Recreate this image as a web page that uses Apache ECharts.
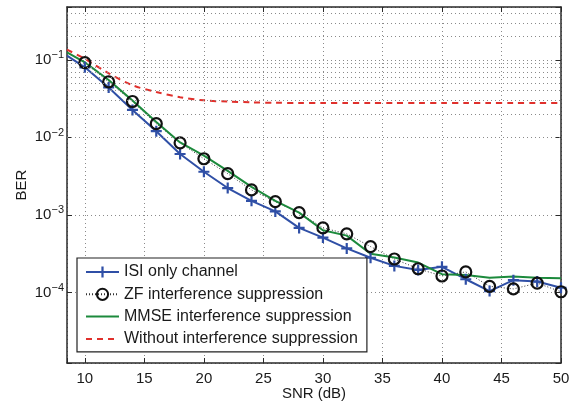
<!DOCTYPE html>
<html>
<head>
<meta charset="utf-8">
<script src="https://cdn.jsdelivr.net/npm/echarts@6/dist/echarts.min.js"></script>
<style>
  html, body { margin: 0; padding: 0; background: #fff; }
  #chart { width: 576px; height: 403px; }
</style>
</head>
<body>
<div id="chart"></div>
<script>
// SNR points (dB)
const snr = [8.5, 10, 12, 14, 16, 18, 20, 22, 24, 26, 28, 30, 32, 34, 36, 38, 40, 42, 44, 46, 48, 50];

// BER values
const isiOnly = [0.113, 0.080, 0.044, 0.0226, 0.012, 0.0061, 0.0036, 0.00222, 0.00152, 0.00111, 0.00068,
  0.00051, 0.00037, 0.00028, 0.00022, 0.000195, 0.000214, 0.000148, 0.000104, 0.000144, 0.000138, 0.000115];
const zfSupp = [0.125, 0.092, 0.052, 0.029, 0.015, 0.0085, 0.0053, 0.0034, 0.0021, 0.00148, 0.00107,
  0.00068, 0.00057, 0.00039, 0.00027, 0.000202, 0.000163, 0.000184, 0.00012, 0.000111, 0.000132, 0.000102];
const mmseSupp = [0.125, 0.093, 0.055, 0.0298, 0.0158, 0.0086, 0.0058, 0.0037, 0.0023, 0.00152, 0.00107,
  0.000635, 0.00054, 0.000316, 0.000282, 0.000243, 0.000172, 0.000168, 0.000155, 0.00016, 0.000155, 0.000152];
const noSupp = [0.135, 0.103, 0.067, 0.047, 0.0384, 0.033, 0.0300, 0.0289, 0.0283, 0.0279, 0.0278,
  0.0277, 0.0278, 0.0277, 0.0277, 0.0278, 0.0277, 0.0278, 0.0277, 0.0278, 0.0277, 0.0278];

const seriesNames = ['ISI only channel', 'ZF interference suppression', 'MMSE interference suppression', 'Without interference suppression'];

// minor grid rows (2..9 x 10^n)
const decades = [1e-5, 1e-4, 1e-3, 1e-2, 1e-1];
const minorSteps = [2, 3, 4, 5, 6, 7, 8, 9];

const X_MIN = 8.5, X_MAX = 50;
const Y_MIN = 1.23e-5, Y_MAX = 0.48;
const FONT = '"Liberation Sans", Arial, Helvetica, sans-serif';
const INK = '#1a1a1a';
const gridLine = { color: '#8a8a8a', width: 1, type: [1, 3] };

function pairs (ys, hideFirst) {
  return snr.map(function (x, i) {
    if (hideFirst && i === 0) {
      return { value: [x, ys[i]], symbol: 'none' };
    }
    return [x, ys[i]];
  });
}

function yLabel (v) {
  let e = Math.log10(v);
  let r = Math.round(e);
  if (Math.abs(e - r) > 1e-6) {
    return '';
  }
  return '{b|10}{s|' + (r < 0 ? '\u2212' + (-r) : r) + '}';
}

function xLabel (v) {
  return Math.abs(v / 5 - Math.round(v / 5)) < 1e-6 ? String(v) : '';
}

let minorLines = [];
decades.forEach(function (d) {
  minorSteps.forEach(function (k) {
    let v = k * d;
    if (v > Y_MIN && v < Y_MAX) {
      minorLines.push({ yAxis: v });
    }
  });
});

let chart = echarts.init(document.getElementById('chart'));

let option = {
  animation: false,
  backgroundColor: '#fff',
  textStyle: { fontFamily: FONT },
  grid: { left: 67, right: 15, top: 7, bottom: 40, containLabel: false, outerBoundsMode: 'none' },
  legend: {
    orient: 'vertical',
    left: 77,
    top: 258,
    data: [
      { name: seriesNames[0] },
      { name: seriesNames[1] },
      { name: seriesNames[2], itemStyle: { color: 'rgba(0,0,0,0)', borderWidth: 0 } },
      { name: seriesNames[3], itemStyle: { color: 'rgba(0,0,0,0)', borderWidth: 0 } }
    ],
    backgroundColor: '#fff',
    borderColor: '#222',
    borderWidth: 1.2,
    borderRadius: 0,
    padding: [6, 9, 5, 8],
    itemWidth: 33,
    itemHeight: 14,
    itemGap: 6.3,
    textStyle: { fontFamily: FONT, fontSize: 16, color: INK }
  },
  xAxis: [{
    type: 'value',
    min: X_MIN,
    max: X_MAX,
    splitNumber: 8,
    minInterval: 5,
    maxInterval: 5,
    name: 'SNR (dB)',
    nameLocation: 'middle',
    nameGap: 23,
    nameMoveOverlap: false,
    nameTextStyle: { fontFamily: FONT, fontSize: 15, color: INK },
    axisLine: { lineStyle: { color: '#2a2a2a', width: 1.5 } },
    axisTick: { inside: true, length: 5, lineStyle: { color: '#2a2a2a' } },
    axisLabel: { formatter: xLabel, margin: 8, fontFamily: FONT, fontSize: 15, color: INK },
    splitLine: { show: true, lineStyle: gridLine }
  }, {
    type: 'value',
    position: 'top',
    min: X_MIN,
    max: X_MAX,
    splitNumber: 8,
    minInterval: 5,
    maxInterval: 5,
    axisLine: { lineStyle: { color: '#2a2a2a', width: 1.5 } },
    axisTick: { inside: true, length: 5, lineStyle: { color: '#2a2a2a' } },
    axisLabel: { show: false },
    splitLine: { show: false }
  }],
  yAxis: [{
    type: 'log',
    min: Y_MIN,
    max: Y_MAX,
    name: 'BER',
    nameLocation: 'middle',
    nameGap: 38,
    nameMoveOverlap: false,
    nameTextStyle: { fontFamily: FONT, fontSize: 15, color: INK },
    axisLine: { lineStyle: { color: '#2a2a2a', width: 1.5 } },
    axisTick: { inside: true, length: 5, lineStyle: { color: '#2a2a2a' } },
    axisLabel: {
      formatter: yLabel,
      margin: 3,
      color: INK,
      rich: {
        b: { fontFamily: FONT, fontSize: 15, lineHeight: 20, color: INK },
        s: { fontFamily: FONT, fontSize: 11, lineHeight: 20, verticalAlign: 'top', color: INK }
      }
    },
    splitLine: { show: true, lineStyle: gridLine }
  }, {
    type: 'log',
    position: 'right',
    min: Y_MIN,
    max: Y_MAX,
    axisLine: { lineStyle: { color: '#2a2a2a', width: 1.5 } },
    axisTick: { inside: true, length: 5, lineStyle: { color: '#2a2a2a' } },
    axisLabel: { show: false },
    splitLine: { show: false }
  }],
  series: [{
    name: 'minor grid',
    type: 'line',
    data: [],
    silent: true,
    z: 0,
    markLine: {
      silent: true,
      symbol: 'none',
      label: { show: false },
      lineStyle: gridLine,
      data: minorLines
    }
  }, {
    name: seriesNames[0],
    type: 'line',
    data: pairs(isiOnly, true),
    symbol: 'path://M4,0H6V4H10V6H6V10H4V6H0V4H4Z',
    symbolSize: 11,
    itemStyle: { color: '#2f4fa6' },
    lineStyle: { color: '#2f4fa6', width: 2 }
  }, {
    name: seriesNames[1],
    type: 'line',
    data: pairs(zfSupp, true),
    symbol: 'circle',
    symbolSize: 11,
    itemStyle: { color: 'rgba(0,0,0,0)', borderColor: '#111', borderWidth: 2.2 },
    lineStyle: { color: '#333', width: 1, type: [1, 2] }
  }, {
    name: seriesNames[2],
    type: 'line',
    data: pairs(mmseSupp, false),
    symbol: 'none',
    itemStyle: { color: '#1c8a3c' },
    lineStyle: { color: '#1c8a3c', width: 2 }
  }, {
    name: seriesNames[3],
    type: 'line',
    data: pairs(noSupp, false),
    symbol: 'none',
    smooth: 0.3,
    itemStyle: { color: '#e0302c' },
    lineStyle: { color: '#e0302c', width: 2, type: [6, 5] }
  }]
};

chart.setOption(option);
</script>
</body>
</html>
